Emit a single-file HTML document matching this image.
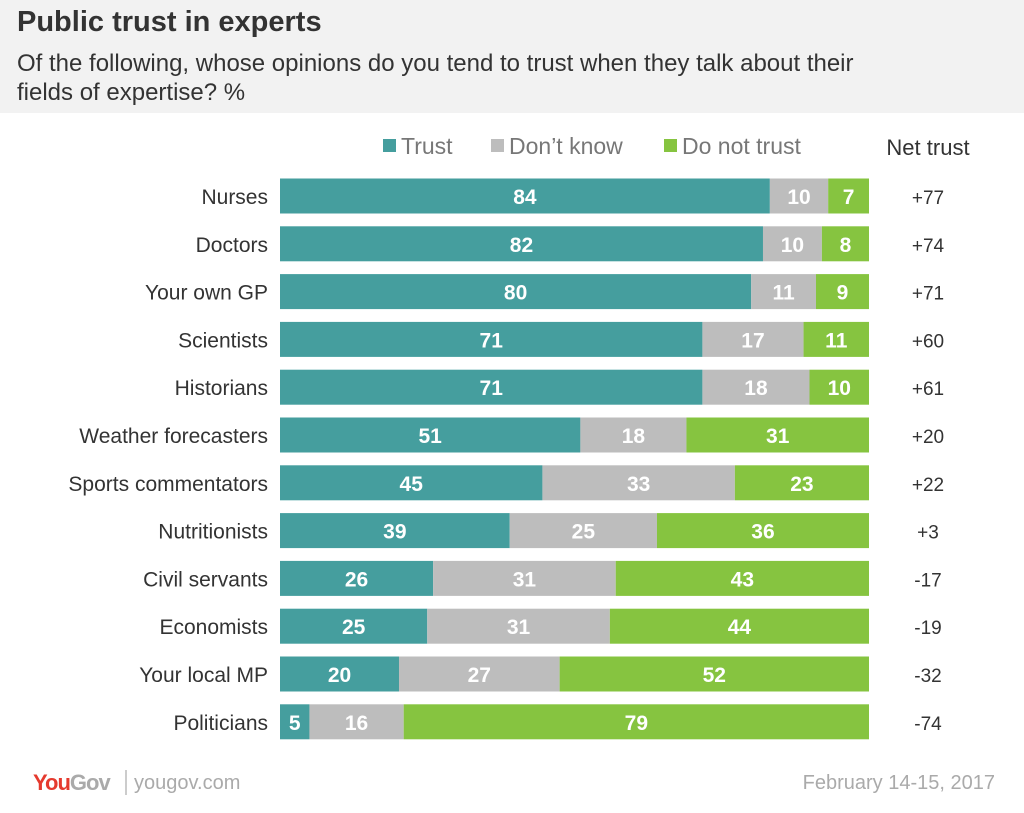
<!DOCTYPE html>
<html><head><meta charset="utf-8"><style>
body{margin:0;width:1024px;height:813px;background:#fff;font-family:"Liberation Sans",sans-serif;overflow:hidden;position:relative}
.hdr{position:absolute;left:0;top:0;width:1024px;height:113px;background:#f2f2f2}
.t{position:absolute;left:17px;top:6px;font-size:29px;font-weight:bold;color:#333}
.s{position:absolute;left:17px;top:49px;font-size:24px;color:#333;line-height:29px;width:960px}
svg{position:absolute;left:0;top:0}
</style></head><body>
<div class="hdr"></div>
<div class="t">Public trust in experts</div>
<div class="s">Of the following, whose opinions do you tend to trust when they talk about their<br>fields of expertise? %</div>
<svg id="c" width="1024" height="813">
<g font-size="23" fill="#777">
<rect x="383" y="139" width="13" height="13" fill="#459e9e"/>
<text x="401" y="154">Trust</text>
<rect x="491" y="139" width="13" height="13" fill="#bdbdbd"/>
<text x="509" y="154">Don’t know</text>
<rect x="664" y="139" width="13" height="13" fill="#86c440"/>
<text x="682" y="154">Do not trust</text>
<text x="928" y="155" text-anchor="middle" fill="#333" font-size="22">Net trust</text>
</g>
<g id="bars"></g>
<text x="33" y="790" font-size="22" font-weight="bold" fill="#e53a2e" letter-spacing="-1">You<tspan fill="#aaa">Gov</tspan></text>
<line x1="126" y1="770" x2="126" y2="795" stroke="#bbb" stroke-width="1.5"/>
<text x="134" y="789" font-size="20" fill="#aaa">yougov.com</text>
<text x="995" y="789" font-size="20" fill="#aaa" text-anchor="end">February 14-15, 2017</text>
</svg>
<script>
const categories=["Nurses","Doctors","Your own GP","Scientists","Historians","Weather forecasters","Sports commentators","Nutritionists","Civil servants","Economists","Your local MP","Politicians"];
const trust=[84,82,80,71,71,51,45,39,26,25,20,5];
const dontKnow=[10,10,11,17,18,18,33,25,31,31,27,16];
const notTrust=[7,8,9,11,10,31,23,36,43,44,52,79];
const netTrust=["+77","+74","+71","+60","+61","+20","+22","+3","-17","-19","-32","-74"];
const X0=280,W=589,Y0=196,STEP=47.8,H=35;
const g=document.getElementById('bars');
const NS="http://www.w3.org/2000/svg";
function mk(t,a){const e=document.createElementNS(NS,t);for(const k in a)e.setAttribute(k,a[k]);g.appendChild(e);return e;}
const colors=["#459e9e","#bdbdbd","#86c440"];
const sNames=["trust","dont-know","do-not-trust"];
categories.forEach((c,i)=>{
  const cy=Y0+i*STEP;
  const lab=mk('text',{x:268,y:cy+8,'font-size':21,fill:'#333','text-anchor':'end'});
  lab.textContent=c;
  
  
  const vals=[trust[i],dontKnow[i],notTrust[i]];
  const sum=vals[0]+vals[1]+vals[2];
  let x=X0;
  vals.forEach((v,j)=>{
    const w=v/sum*W;
    const r=mk('rect',{x:x,y:cy-H/2,width:w,height:H,fill:colors[j]});
    
    
    const t=mk('text',{x:x+w/2,y:cy+8,'font-size':21,'font-weight':'bold',fill:'#fff','text-anchor':'middle'});
    t.textContent=v;
    
    
    x+=w;
  });
  const n=mk('text',{x:928,y:cy+8,'font-size':19,fill:'#333','text-anchor':'middle'});
  n.textContent=netTrust[i];
  
  
});
</script>
</body></html>
